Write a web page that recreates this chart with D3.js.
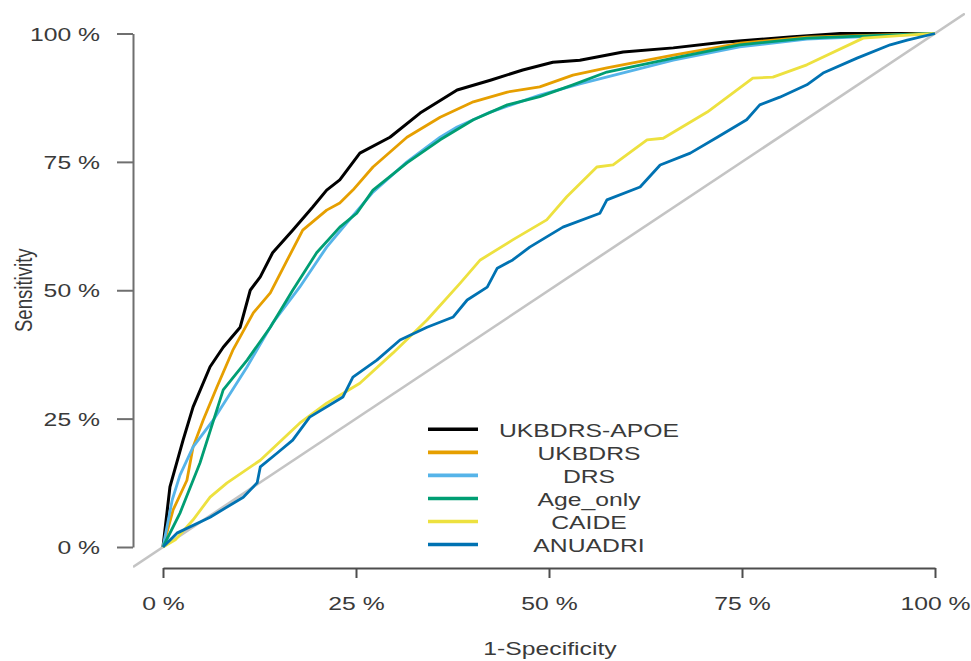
<!DOCTYPE html>
<html>
<head>
<meta charset="utf-8">
<script src="https://cdn.jsdelivr.net/npm/d3@7"></script>
<style>
  html, body { margin: 0; padding: 0; background: #fff; }
  svg { display: block; }
  text { font-family: "Liberation Sans", Arial, Helvetica, sans-serif; fill: #3a3a3a; }
</style>
</head>
<body>
<svg id="chart" width="971" height="661"></svg>
<script>
// ROC curves: 1-specificity (x) vs sensitivity (y), both as fractions
const seriesNames = ["UKBDRS-APOE", "UKBDRS", "DRS", "Age_only", "CAIDE", "ANUADRI"];
const seriesColors = ["#000000", "#E69F00", "#56B4E9", "#009E73", "#EDE13F", "#0072B2"];

const ukbdrsApoe = [
  [0,0],[0.009,0.117],[0.026,0.208],[0.039,0.273],[0.061,0.351],[0.078,0.389],[0.100,0.428],
  [0.113,0.500],[0.126,0.526],[0.142,0.573],[0.168,0.617],[0.194,0.662],[0.212,0.695],
  [0.229,0.715],[0.255,0.767],[0.294,0.798],[0.333,0.845],[0.381,0.890],[0.424,0.909],
  [0.466,0.929],[0.505,0.944],[0.540,0.948],[0.596,0.964],[0.661,0.972],[0.725,0.983],
  [0.812,0.993],[0.877,1.000],[1,1]
];
const ukbdrs = [
  [0,0],[0.013,0.072],[0.031,0.130],[0.039,0.195],[0.052,0.247],[0.070,0.312],[0.091,0.385],
  [0.117,0.456],[0.139,0.495],[0.161,0.559],[0.181,0.617],[0.212,0.656],[0.229,0.670],
  [0.246,0.695],[0.272,0.740],[0.316,0.798],[0.359,0.837],[0.402,0.867],[0.446,0.886],
  [0.488,0.896],[0.531,0.919],[0.575,0.933],[0.661,0.958],[0.747,0.981],[0.834,0.993],[1,1]
];
const drs = [
  [0,0],[0.012,0.092],[0.022,0.140],[0.039,0.195],[0.065,0.247],[0.109,0.351],[0.142,0.436],
  [0.177,0.506],[0.212,0.584],[0.238,0.631],[0.272,0.691],[0.316,0.750],[0.359,0.798],
  [0.381,0.818],[0.424,0.847],[0.488,0.880],[0.540,0.902],[0.661,0.948],[0.747,0.974],
  [0.834,0.989],[1,1]
];
const ageOnly = [
  [0,0],[0.022,0.066],[0.048,0.164],[0.078,0.306],[0.109,0.364],[0.139,0.428],[0.168,0.500],
  [0.199,0.573],[0.229,0.623],[0.251,0.650],[0.272,0.695],[0.316,0.748],[0.359,0.793],
  [0.402,0.832],[0.446,0.861],[0.488,0.877],[0.531,0.900],[0.575,0.925],[0.661,0.952],
  [0.747,0.978],[0.834,0.991],[0.920,0.996],[1,1]
];
const caide = [
  [0,0],[0.016,0.014],[0.039,0.053],[0.061,0.097],[0.083,0.125],[0.126,0.169],[0.177,0.241],
  [0.212,0.280],[0.255,0.319],[0.298,0.378],[0.342,0.442],[0.385,0.514],[0.411,0.559],
  [0.453,0.598],[0.497,0.637],[0.523,0.682],[0.562,0.740],[0.583,0.744],[0.627,0.793],
  [0.648,0.796],[0.705,0.847],[0.764,0.913],[0.790,0.915],[0.834,0.939],[0.907,0.991],
  [0.964,0.997],[1,1]
];
const anuadri = [
  [0,0],[0.018,0.027],[0.061,0.058],[0.104,0.097],[0.122,0.125],[0.126,0.156],[0.148,0.183],
  [0.168,0.208],[0.190,0.253],[0.233,0.292],[0.246,0.331],[0.277,0.364],[0.307,0.403],
  [0.342,0.428],[0.376,0.448],[0.394,0.481],[0.420,0.506],[0.433,0.543],[0.453,0.559],
  [0.475,0.584],[0.497,0.604],[0.518,0.623],[0.566,0.650],[0.575,0.676],[0.618,0.701],
  [0.644,0.744],[0.683,0.767],[0.718,0.798],[0.756,0.832],[0.773,0.861],[0.799,0.876],
  [0.834,0.900],[0.855,0.923],[0.899,0.952],[0.942,0.978],[0.964,0.987],[1,1]
];
const seriesValues = [ukbdrsApoe, ukbdrs, drs, ageOnly, caide, anuadri];

const tickValues = [0, 0.25, 0.5, 0.75, 1];
const tickLabels = ["0 %", "25 %", "50 %", "75 %", "100 %"];

const svg = d3.select("#chart");
const W = 971, H = 661;
const FONT = 18.6, STRETCH = 1.33;

// scales
const x = d3.scaleLinear().domain([0, 1]).range([163, 935]);
const y = d3.scaleLinear().domain([0, 1]).range([547, 33.5]);

// plotting region (for the reference diagonal)
const region = { left: 133, right: 965, top: 13, bottom: 568 };
svg.append("defs").append("clipPath").attr("id", "plotclip")
  .append("rect")
  .attr("x", region.left).attr("y", region.top)
  .attr("width", region.right - region.left).attr("height", region.bottom - region.top);

// chance diagonal
const d0 = x.invert(region.left), d1 = x.invert(region.right);
svg.append("line")
  .attr("clip-path", "url(#plotclip)")
  .attr("x1", x(d0)).attr("y1", y(d0))
  .attr("x2", x(d1)).attr("y2", y(d1))
  .attr("stroke", "#c4c4c4").attr("stroke-width", 2.6);

// y axis
const yAxis = svg.append("g")
  .attr("transform", `translate(${region.left},0)`)
  .call(d3.axisLeft(y).tickValues(tickValues).tickFormat((d, i) => tickLabels[i])
    .tickSize(16).tickSizeOuter(0).tickPadding(17));
yAxis.select(".domain").attr("stroke", "#6f6f6f").attr("stroke-width", 2);
yAxis.selectAll(".tick line").attr("stroke", "#6f6f6f").attr("stroke-width", 2);
yAxis.selectAll(".tick text")
  .attr("x", 0).attr("dy", "0.36em")
  .attr("transform", `translate(-33,0) scale(${STRETCH},1)`)
  .style("font-size", FONT + "px").style("fill", "#3a3a3a");
yAxis.attr("font-family", null).attr("font-size", null);

// x axis
const xAxis = svg.append("g")
  .attr("transform", `translate(0,${region.bottom})`)
  .call(d3.axisBottom(x).tickValues(tickValues).tickFormat((d, i) => tickLabels[i])
    .tickSize(10).tickSizeOuter(0).tickPadding(19));
xAxis.select(".domain").attr("stroke", "#4d4d4d").attr("stroke-width", 2);
xAxis.selectAll(".tick line").attr("stroke", "#4d4d4d").attr("stroke-width", 2);
xAxis.selectAll(".tick text")
  .attr("transform", `scale(${STRETCH},1)`)
  .style("font-size", FONT + "px").style("fill", "#3a3a3a");
xAxis.attr("font-family", null).attr("font-size", null);

// axis titles
svg.append("text")
  .attr("transform", `translate(550,655) scale(${STRETCH},1)`)
  .attr("text-anchor", "middle")
  .style("font-size", FONT + "px")
  .text("1-Specificity");

svg.append("text")
  .attr("transform", `translate(32,${y(0.5)}) scale(${STRETCH},1) rotate(-90)`)
  .attr("text-anchor", "middle")
  .style("font-size", FONT + "px")
  .text("Sensitivity");

// ROC curves
const line = d3.line().x(d => x(d[0])).y(d => y(d[1]));
seriesValues.forEach((vals, i) => {
  svg.append("path")
    .datum(vals)
    .attr("d", line)
    .attr("fill", "none")
    .attr("stroke", seriesColors[i])
    .attr("stroke-width", i === 0 ? 3 : 2.8)
    .attr("stroke-linejoin", "round");
});

// legend
const legendTop = 429.3, legendStep = 23.05;
const legend = svg.append("g");
seriesNames.forEach((name, i) => {
  const ly = legendTop + i * legendStep;
  legend.append("line")
    .attr("x1", 428).attr("x2", 478).attr("y1", ly).attr("y2", ly)
    .attr("stroke", seriesColors[i]).attr("stroke-width", 3.6);
  legend.append("text")
    .attr("transform", `translate(589,${ly}) scale(${STRETCH},1)`)
    .attr("text-anchor", "middle")
    .attr("dy", "0.42em")
    .style("font-size", FONT + "px")
    .text(name);
});
</script>
</body>
</html>
